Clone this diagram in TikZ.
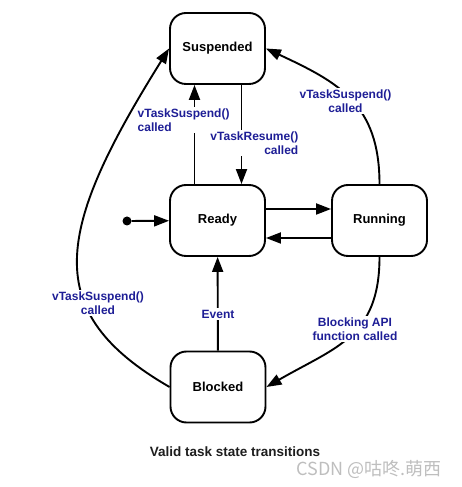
\documentclass[tikz,border=0pt]{standalone}
\usepackage{fontspec}
\setmainfont{Liberation Sans}
\newfontfamily\cjk{Noto Sans CJK SC}
\usetikzlibrary{arrows.meta}
\definecolor{labelblue}{RGB}{30,30,150}
\definecolor{markgray}{RGB}{190,190,190}

\begin{document}
\begin{tikzpicture}[x=1pt,y=1pt]
    \useasboundingbox (0,0) rectangle (461,487);
    \begin{scope}[every node/.style={rounded corners=16pt,line width=1.9pt,draw=black,fill=white,
        minimum width=95pt,minimum height=71pt,font=\fontsize{13}{15}\selectfont\bfseries}]
        \node (susp) at (217.5,438.5) {Suspended};
        \node (ready) at (217.5,266.5) {Ready};
        \node (run) at (379.5,266.5) {Running};
        \node (block) at (218,100) {Blocked};
    \end{scope}
    \node[circle,fill=black,inner sep=0pt,minimum size=9pt] (start) at (127,266) {};
    \begin{scope}[>={Triangle[length=15pt,width=11pt]},
        every edge/.style={draw=black,line width=1.9pt}]
        \path [->] (start) edge (ready);
        \path [->] ([xshift=-23pt]ready.north) edge ([xshift=-23pt]susp.south);
        \path [->] ([xshift=24pt]susp.south) edge ([xshift=24pt]ready.north);
        \path [->] ([yshift=11.5pt]ready.east) edge ([yshift=11.5pt]run.west);
        \path [->] ([yshift=-17.5pt]run.west) edge ([yshift=-17.5pt]ready.east);
        \path [->] (block) edge (ready);
        \path [->] (run.north) edge[out=90,in=-25,out distance=80pt,in distance=80pt] (susp.east);
        \path [->] (run.south) edge[out=-90,in=30,out distance=80pt,in distance=80pt] (block.east);
        \path [->] (block.west) edge[out=150,in=-122,out distance=150pt,in distance=215pt] (susp.west);
    \end{scope}
    \begin{scope}[every node/.style={fill=white,inner sep=1.5pt,text=labelblue,
        font=\fontsize{12}{14}\selectfont\bfseries}]
        \node[anchor=west,align=left] (suspL) at (136,367) {vTaskSuspend()\\called};
        \node[anchor=east,align=right] (resume) at (300,344) {vTaskResume()\\called};
        \node[align=center] (suspR) at (345.5,386) {vTaskSuspend()\\called};
        \node (event) at (218,173) {Event};
        \node[align=center] (blocking) at (355,158) {Blocking API\\function called};
        \node[align=center] (suspB) at (98,184) {vTaskSuspend()\\called};
    \end{scope}
    \node[text={rgb,255:red,30;green,30;blue,30},font=\fontsize{13.5}{16}\selectfont\bfseries] (caption) at (235,35) {Valid task state transitions};
    \node[text=markgray,font=\cjk\fontsize{18}{21}\selectfont] (mark) at (369,18) {CSDN @咕咚.萌西};
\end{tikzpicture}
\end{document}
